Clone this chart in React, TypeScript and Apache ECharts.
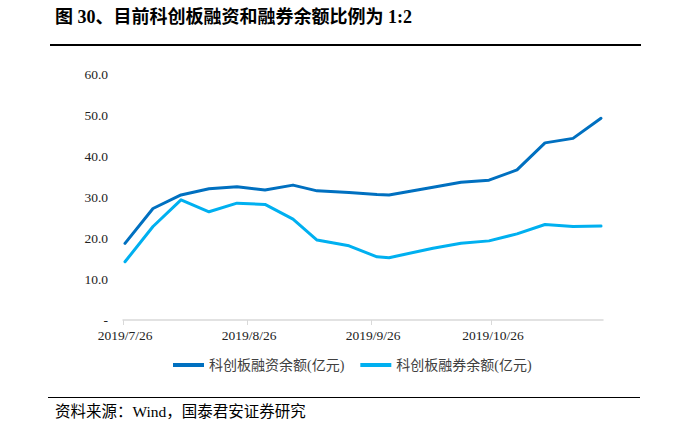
import React, { useEffect, useRef } from "react";
import * as echarts from "echarts";

const TITLE = "图 30、目前科创板融资和融券余额比例为 1:2";
const SOURCE = "资料来源：Wind，国泰君安证券研究";
const SERIES_NAMES = ["科创板融资余额(亿元)", "科创板融券余额(亿元)"];

const dates = [
  "2019-07-26", "2019-08-02", "2019-08-09", "2019-08-16", "2019-08-23",
  "2019-08-30", "2019-09-06", "2019-09-12", "2019-09-20", "2019-09-27",
  "2019-09-30", "2019-10-11", "2019-10-18", "2019-10-25", "2019-11-01",
  "2019-11-08", "2019-11-15", "2019-11-22",
];

const financing = [
  18.7, 27.2, 30.5, 32.0, 32.5, 31.7, 32.9, 31.5, 31.1, 30.6,
  30.5, 32.4, 33.6, 34.1, 36.6, 43.2, 44.3, 49.2,
];

const securitiesLending = [
  14.2, 22.8, 29.3, 26.4, 28.5, 28.2, 24.6, 19.5, 18.1, 15.4,
  15.2, 17.5, 18.7, 19.3, 21.0, 23.3, 22.8, 22.9,
];

const tickDates = ["2019-07-26", "2019-08-26", "2019-09-26", "2019-10-26"];
const tickLabels = ["2019/7/26", "2019/8/26", "2019/9/26", "2019/10/26"];
const axisEndDate = "2019-11-23";

const yTicks = [0, 10, 20, 30, 40, 50, 60];

const DAY = 86400000;
const base = Date.parse(tickDates[0] + "T00:00:00Z");
const dayOf = (d: string) => (Date.parse(d + "T00:00:00Z") - base) / DAY;

export default function App() {
  const ref = useRef<HTMLDivElement>(null);

  useEffect(() => {
    if (!ref.current) return;
    const chart = echarts.init(ref.current, null, { renderer: "svg" });

    const tickPos = tickDates.map(dayOf);
    const labelPos = tickPos.map((d) => d + 0.5);
    const xs = dates.map((d) => dayOf(d) + 0.5);

    const serif = "'Liberation Serif', 'Noto Sans CJK SC', serif";

    chart.setOption({
      animation: false,
      backgroundColor: "#ffffff",
      grid: { left: 123, right: 97, top: 74, bottom: 104, containLabel: false },
      xAxis: {
        type: "value",
        min: 0,
        max: dayOf(axisEndDate),
        axisLine: { show: true, lineStyle: { color: "#d9d9d9", width: 1.5 } },
        axisTick: {
          show: true,
          length: 5,
          lineStyle: { color: "#d9d9d9", width: 1 },
          customValues: tickPos,
        },
        axisLabel: {
          customValues: labelPos,
          margin: 9,
          color: "#222",
          fontSize: 13.5,
          fontFamily: serif,
          formatter: (v: number) => {
            const i = labelPos.findIndex((p) => Math.abs(p - v) < 0.01);
            return i >= 0 ? tickLabels[i] : "";
          },
        },
        splitLine: { show: false },
      },
      yAxis: {
        type: "value",
        min: yTicks[0],
        max: yTicks[yTicks.length - 1],
        interval: 10,
        axisLine: { show: false },
        axisTick: { show: false },
        splitLine: { show: false },
        axisLabel: {
          margin: 15,
          color: "#222",
          fontSize: 13.5,
          fontFamily: serif,
          formatter: (v: number) => (v === 0 ? "-" : v.toFixed(1)),
        },
      },
      legend: {
        top: 353,
        left: 168,
        icon: "rect",
        itemWidth: 31,
        itemHeight: 4,
        itemGap: 16,
        textStyle: { color: "#404040", fontSize: 14, fontFamily: serif },
        data: SERIES_NAMES,
      },
      series: [
        {
          name: SERIES_NAMES[0],
          type: "line",
          data: xs.map((x, i) => [x, financing[i]]),
          showSymbol: false,
          symbol: "none",
          lineStyle: { color: "#0070C0", width: 3, cap: "round", join: "round" },
          itemStyle: { color: "#0070C0" },
        },
        {
          name: SERIES_NAMES[1],
          type: "line",
          data: xs.map((x, i) => [x, securitiesLending[i]]),
          showSymbol: false,
          symbol: "none",
          lineStyle: { color: "#00B0F0", width: 3, cap: "round", join: "round" },
          itemStyle: { color: "#00B0F0" },
        },
      ],
      graphic: [
        {
          type: "text",
          left: 55,
          top: 8,
          style: {
            text: TITLE,
            fill: "#000",
            font: "bold 18px 'Liberation Serif', 'Noto Sans CJK SC', serif",
          },
        },
        {
          type: "line",
          shape: { x1: 50, y1: 45, x2: 641, y2: 45 },
          style: { stroke: "#000", lineWidth: 2 },
        },
        {
          type: "line",
          shape: { x1: 48, y1: 397.5, x2: 640, y2: 397.5 },
          style: { stroke: "#000", lineWidth: 1.2 },
        },
        {
          type: "text",
          left: 55,
          top: 404,
          style: {
            text: SOURCE,
            fill: "#000",
            font: "15.5px 'Liberation Serif', 'Noto Sans CJK SC', serif",
          },
        },
      ],
    });

    return () => chart.dispose();
  }, []);

  return (
    <div
      ref={ref}
      style={{ position: "absolute", left: 0, top: 0, width: 700, height: 424 }}
    />
  );
}
